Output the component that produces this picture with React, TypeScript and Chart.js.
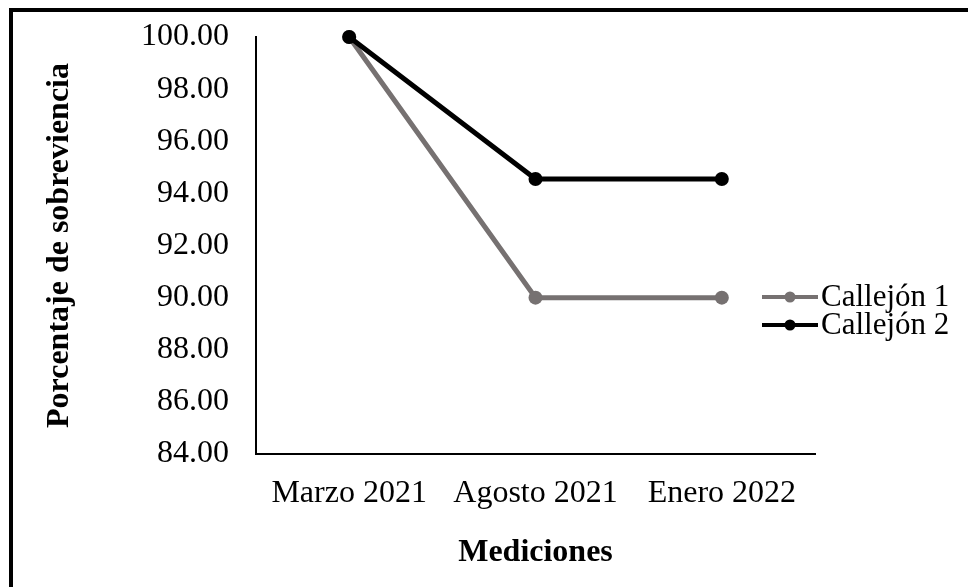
import React, { useEffect, useRef } from "react";
import { Chart, registerables } from "chart.js";

Chart.register(...registerables);

const categories: string[] = ["Marzo 2021", "Agosto 2021", "Enero 2022"];
const callejon1: number[] = [100, 90, 90];
const callejon2: number[] = [100, 94.55, 94.55];
const seriesNames: string[] = ["Callejón 1", "Callejón 2"];
const yTitle = "Porcentaje de sobreviencia";
const xTitle = "Mediciones";

const FONT = "'Liberation Serif', 'Times New Roman', serif";
const GRAY = "#767171";
const BLACK = "#000000";
const SIZE = 32;

const legendPlugin = {
  id: "customLegend",
  afterDraw(chart: any) {
    const ctx = chart.ctx as CanvasRenderingContext2D;
    const ds = chart.data.datasets;
    const startY = 297;
    const gap = 28;
    ds.forEach((d: any, i: number) => {
      const y = startY + i * gap;
      ctx.save();
      ctx.strokeStyle = d.borderColor;
      ctx.lineWidth = 4;
      ctx.beginPath();
      ctx.moveTo(762, y);
      ctx.lineTo(818, y);
      ctx.stroke();
      ctx.fillStyle = d.pointBackgroundColor;
      ctx.beginPath();
      ctx.arc(790, y, 5.5, 0, Math.PI * 2);
      ctx.fill();
      ctx.fillStyle = "#000";
      ctx.font = `31px ${FONT}`;
      ctx.textBaseline = "middle";
      ctx.textAlign = "left";
      ctx.fillText(d.label, 821, y + 1);
      ctx.restore();
    });
  },
};

export default function App() {
  const ref = useRef<HTMLCanvasElement | null>(null);
  useEffect(() => {
    if (!ref.current) return;
    const chart = new Chart(ref.current, {
      type: "line",
      data: {
        labels: categories,
        datasets: [
          {
            label: seriesNames[0],
            data: callejon1,
            borderColor: GRAY,
            backgroundColor: GRAY,
            pointBackgroundColor: GRAY,
            pointBorderColor: GRAY,
            borderWidth: 5,
            pointRadius: 7,
            pointBorderWidth: 0,
            tension: 0,
            clip: false,
            order: 1,
          },
          {
            label: seriesNames[1],
            data: callejon2,
            borderColor: BLACK,
            backgroundColor: BLACK,
            pointBackgroundColor: BLACK,
            pointBorderColor: BLACK,
            borderWidth: 5,
            pointRadius: 7,
            pointBorderWidth: 0,
            tension: 0,
            clip: false,
            order: 0,
          },
        ],
      },
      options: {
        responsive: false,
        animation: false,
        devicePixelRatio: 1,
        layout: { padding: { left: 0, top: 37, right: 153, bottom: 0 } },
        plugins: {
          legend: { display: false },
          tooltip: { enabled: false },
        },
        scales: {
          x: {
            offset: true,
            grid: { display: false, drawTicks: false },
            border: { display: true, color: BLACK, width: 2 },
            ticks: {
              color: "#000",
              font: { family: FONT, size: SIZE },
              padding: 20,
              maxRotation: 0,
            },
            title: {
              display: true,
              text: xTitle,
              color: "#000",
              font: { family: FONT, size: SIZE, weight: "bold" },
              padding: { top: 0, bottom: 15 },
            },
            afterFit: (s: any) => {
              s.height = 133;
              s.paddingLeft = 0;
              s.paddingRight = 0;
            },
          },
          y: {
            min: 84,
            max: 100,
            grid: { display: false, drawTicks: false },
            border: { display: true, color: BLACK, width: 2 },
            ticks: {
              stepSize: 2,
              color: "#000",
              font: { family: FONT, size: SIZE },
              padding: 27,
              callback: (v: any) => Number(v).toFixed(2),
            },
            title: {
              display: true,
              text: yTitle,
              color: "#000",
              font: { family: FONT, size: SIZE, weight: "bold" },
              padding: { top: 41, bottom: 0 },
            },
            afterFit: (s: any) => {
              s.width = 256;
              s.paddingTop = 0;
              s.paddingBottom = 0;
            },
          },
        },
      },
      plugins: [legendPlugin],
    });
    return () => chart.destroy();
  }, []);

  return (
    <div style={{ position: "absolute", left: 0, top: 0, width: 968, height: 587, background: "#fff", overflow: "hidden" }}>
      <canvas ref={ref} width={968} height={587} style={{ width: 968, height: 587, display: "block" }} />
      <div
        style={{
          position: "absolute",
          left: 9,
          top: 8,
          width: 968,
          height: 587,
          borderLeft: "4px solid #000",
          borderTop: "4px solid #000",
          pointerEvents: "none",
        }}
      />
    </div>
  );
}
